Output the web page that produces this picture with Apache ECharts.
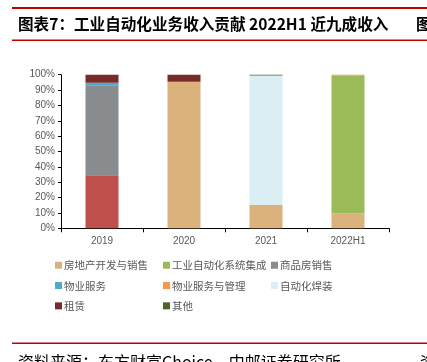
<!DOCTYPE html>
<html><head><meta charset="utf-8">
<script src="https://cdn.jsdelivr.net/npm/echarts@6/dist/echarts.min.js"></script>
<style>html,body{margin:0;padding:0;background:#fff}#c{width:427px;height:362px}</style>
</head><body><div id="c"></div>
<script>
const categories = ['2019','2020','2021','2022H1'];
const seriesNames = ['房地产开发与销售','工业自动化系统集成','商品房销售','物业服务','物业服务与管理','自动化焊装','租赁','其他'];
const fangdichan = [34.5, 95.4, 15.2, 9.8];
const gongyeZidonghua = [0, 0, 0, 89.5];
const shangpinfang = [58.6, 0, 0, 0];
const wuyeFuwu = [1.7, 0, 0, 0];
const wuyeGuanli = [0, 0, 0, 0.6];
const zidonghuaHanzhuang = [0, 0, 84.2, 0];
const zulin = [5.2, 4.6, 0, 0];
const qita = [0, 0, 0.6, 0.1];
const yTicks = [0,10,20,30,40,50,60,70,80,90,100];

const colors = ['#DBB27B','#9BBB59','#898C8E','#4BACC6','#F79646','#DAEEF3','#772C2A','#4F6228'];
const dataArr = [fangdichan, gongyeZidonghua, shangpinfang, wuyeFuwu, wuyeGuanli, zidonghuaHanzhuang, zulin, qita];

const series = seriesNames.map((n,i)=>({
  name:n, type:'bar', stack:'s', barWidth:33,
  itemStyle:{color:colors[i]},
  data: dataArr[i].map((v,j)=> (i===0 && j===0) ? {value:v, itemStyle:{color:'#C0504D'}} : v)
}));

const legendBase = {orient:'vertical', itemWidth:7, itemHeight:7, itemGap:9.8, icon:'rect',
  textStyle:{color:'#595959', fontSize:10.5, fontFamily:'Noto Sans CJK SC', padding:[0,0,0,-3]}, top:255};

const chart = echarts.init(document.getElementById('c'));
chart.setOption({
  animation:false,
  grid:{left:61, right:38, top:74.7, bottom:133.7},
  xAxis:{type:'category', data:categories,
    axisLine:{lineStyle:{color:'#000'}},
    axisTick:{show:true, length:4, lineStyle:{color:'#000'}},
    axisLabel:{color:'#595959', fontSize:10, margin:8, fontFamily:'Liberation Sans'}},
  yAxis:{type:'value', min:0, max:100, interval:10,
    axisLine:{show:true, lineStyle:{color:'#000'}},
    axisTick:{show:true, length:3, lineStyle:{color:'#000'}},
    splitLine:{show:false},
    axisLabel:{color:'#595959', fontSize:10, margin:6, fontFamily:'Liberation Sans', formatter:v=>v+'%'}},
  legend:[
    Object.assign({}, legendBase, {left:50, data:[seriesNames[0],seriesNames[3],seriesNames[6]]}),
    Object.assign({}, legendBase, {left:158, data:[seriesNames[1],seriesNames[4],seriesNames[7]]}),
    Object.assign({}, legendBase, {left:266, data:[seriesNames[2],seriesNames[5]]})
  ],
  series: series,
  graphic:[
    {type:'rect', shape:{x:12, y:7, width:415, height:2}, style:{fill:'#C00000'}},
    {type:'rect', shape:{x:12, y:39.5, width:415, height:1.5}, style:{fill:'#C00000'}},
    {type:'text', left:18, top:16, style:{text:'图表7：工业自动化业务收入贡献 2022H1 近九成收入', fill:'#000', font:'bold 15.6px "Noto Sans CJK SC"'}},
    {type:'text', left:416, top:16, style:{text:'图', fill:'#000', font:'bold 15.6px "Noto Sans CJK SC"'}},
    {type:'rect', shape:{x:12, y:342.5, width:415, height:1.5}, style:{fill:'#C00000'}},
    {type:'text', left:18, top:354, style:{text:'资料来源：东方财富Choice，中邮证券研究所', fill:'#000', font:'16px "Noto Sans CJK SC"'}},
    {type:'text', left:420, top:354, style:{text:'资', fill:'#000', font:'16px "Noto Sans CJK SC"'}}
  ]
});
</script></body></html>
